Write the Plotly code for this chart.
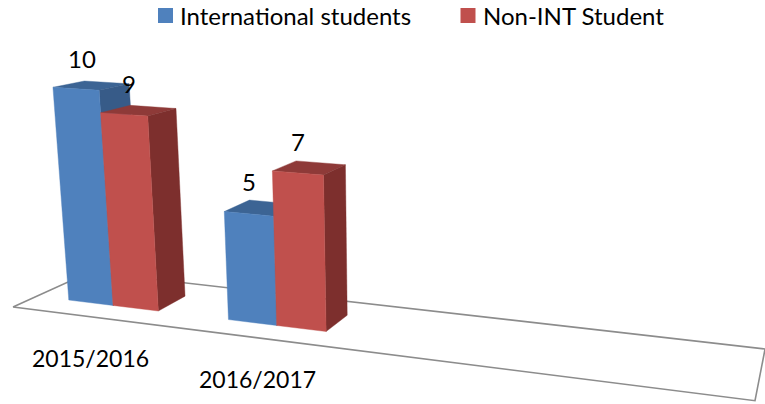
import numpy as np
import plotly.graph_objects as go

categories = ["2015/2016", "2016/2017", "", ""]
international = [10, 5, None, None]
non_int = [9, 7, None, None]
series_names = ["International students", "Non-INT Student"]

W, H = 765, 404
FRONT = ["#4F81BD", "#C0504D"]
TOP = ["#3C6494", "#8E3A38"]
SIDE = ["#375B88", "#7D2F2D"]
FONT = "Lato, Carlito, Calibri, sans-serif"

# Perspective camera of the 3-D chart: floor homography + vanishing point of the value axis
G, Hh = -0.1714, 0.1018
CAM = np.array([[612.6, 86.2, -0.004658 * 400, 13.0],
                [25.0, -7.3, -0.004658 * 4748, 307.0],
                [G, Hh, -0.004658, 1.0]])


def project(u, d, z=0.0):
    p = CAM @ np.array([u, d, z, 1.0])
    return float(p[0] / p[2]), float(p[1] / p[2])


def poly(points, color):
    xs, ys = zip(*[project(*p) for p in points])
    return go.Scatter(x=list(xs) + [xs[0]], y=list(ys) + [ys[0]], mode="lines", fill="toself",
                      fillcolor=color, line=dict(width=0.4, color=color),
                      showlegend=False, hoverinfo="skip")


fig = go.Figure()

# floor outline
fx, fy = zip(*[project(*p) for p in [(0, 0), (1, 0), (1, 1), (0, 1), (0, 0)]])
fig.add_trace(go.Scatter(x=fx, y=fy, mode="lines", line=dict(color="#8C8C8C", width=1.6),
                         showlegend=False, hoverinfo="skip", cliponaxis=True))

n_cat = len(categories)
slot = 1 / n_cat
bar_w = slot / 3.5
D0, D1 = 0.29, 0.685
U_SHIFT = -0.001
annotations = []
label_nudge = {(0, 0): -2, (0, 1): -1, (1, 0): 0, (1, 1): 2}
label_lift = {(0, 0): 23, (0, 1): 22, (1, 0): 19, (1, 1): 19}

for i in range(n_cat):
    for j, vals in enumerate([international, non_int]):
        v = vals[i]
        if v is None:
            continue
        u0 = (i + 0.5) * slot - bar_w + j * bar_w + U_SHIFT
        u1 = u0 + bar_w
        fig.add_trace(poly([(u0, D0, v), (u1, D0, v), (u1, D1, v), (u0, D1, v)], TOP[j]))
        fig.add_trace(poly([(u1, D0, 0), (u1, D1, 0), (u1, D1, v), (u1, D0, v)], SIDE[j]))
        fig.add_trace(poly([(u0, D0, 0), (u1, D0, 0), (u1, D0, v), (u0, D0, v)], FRONT[j]))
        lx, ly = project(u0, D1, v)
        annotations.append(dict(x=lx, y=ly, text=str(v), showarrow=False, xanchor="center",
                                yanchor="middle", yshift=label_lift[(i, j)],
                                xshift=label_nudge[(i, j)],
                                font=dict(family=FONT, size=24, color="#000000")))

# category labels, below the front floor edge
for i, c in enumerate(categories):
    if not c:
        continue
    lx, ly = project((i + 0.5) * slot, 0)
    annotations.append(dict(x=lx, y=ly, text=c, showarrow=False, xanchor="center", yanchor="middle",
                            yshift=-41, xshift=-1.5,
                            font=dict(family=FONT, size=23, color="#000000")))

# legend
legend_sw = [165.5, 468]
legend_tx = [178, 481]
fig.add_trace(go.Scatter(x=legend_sw, y=[15.5, 15.5], mode="markers",
                         marker=dict(symbol="square", size=15, color=FRONT, line=dict(width=0)),
                         showlegend=False, hoverinfo="skip"))
for name, tx in zip(series_names, legend_tx):
    annotations.append(dict(x=tx, y=15.5, text=name, showarrow=False, xanchor="left", yanchor="middle",
                            font=dict(family=FONT, size=24, color="#000000")))

fig.update_layout(
    width=W, height=H, margin=dict(l=0, r=0, t=0, b=0),
    paper_bgcolor="white", plot_bgcolor="white", showlegend=False,
    xaxis=dict(range=[0, W], visible=False, fixedrange=True),
    yaxis=dict(range=[H, 0], visible=False, fixedrange=True),
    annotations=annotations,
)
fig.write_html("out.html", config=dict(displayModeBar=False),
               post_script="document.body.style.margin='0';")
